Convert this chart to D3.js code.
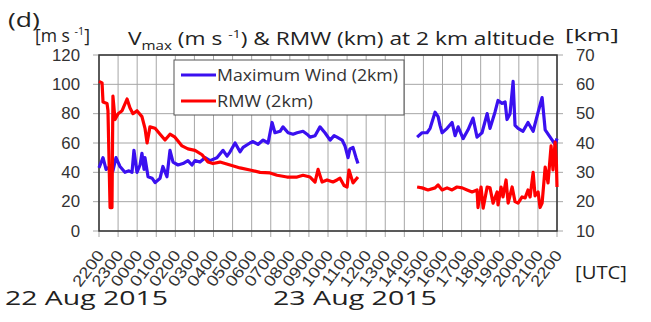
<!DOCTYPE html>
<html>
<head>
<meta charset="utf-8">
<script src="https://cdn.jsdelivr.net/npm/d3@7"></script>
<style>
  body { margin: 0; background: #fff; }
  svg { font-family: "Open Sans", Lato, sans-serif; }
  .grid line { stroke: #a6a6a6; stroke-width: 1; }
  .axis path { display: none; }
  .axis line { stroke: #a6a6a6; }
  .axis text { fill: #333; }
</style>
</head>
<body>
<svg id="viz" width="651" height="322"></svg>
<script>
// hours after 2200 UTC 22 Aug 2015
var xLabels = ["2200","2300","0000","0100","0200","0300","0400","0500","0600","0700","0800","0900",
  "1000","1100","1200","1300","1400","1500","1600","1700","1800","1900","2000","2100","2200"];
var leftTicks = [0, 20, 40, 60, 80, 100, 120];
var rightTicks = [10, 20, 30, 40, 50, 60, 70];

// Maximum wind at 2 km (m s-1), left axis
var windT = [0.00,0.21,0.37,0.58,0.73,0.89,1.10,1.36,1.57,1.73,1.83,1.99,2.15,2.25,2.36,2.41,2.57,2.78,2.94,3.20,
  3.35,3.56,3.72,3.88,4.14,4.40,4.66,4.87,5.03,5.29,5.56,5.82,6.18,6.50,6.71,6.87,7.13,7.39,7.55,7.91,
  8.07,8.33,8.60,8.86,9.07,9.22,9.49,9.64,9.91,10.17,10.38,10.69,10.90,11.06,11.32,11.58,11.84,12.11,12.32,12.47,
  12.74,12.89,13.05,13.15,13.31,13.47,13.57,
  16.67,16.93,17.19,17.35,17.61,17.77,17.87,17.98,18.24,18.50,18.66,18.82,19.08,19.34,19.60,19.81,20.07,20.34,
  20.49,20.75,20.91,21.12,21.28,21.38,21.54,21.70,21.80,21.96,22.22,22.48,22.75,23.01,23.22,23.38,23.64,23.90,24.00];
var windV = [43,50,42,44,41,50,44,40,41,40,55,40,45,53,42,50,37,36,33,36,
  44,37,55,47,45,46,48,45,48,47,50,48,50,55,51,54,60,54,57,60,
  61,59,62,60,74,67,68,71,67,66,67,68,66,64,65,71,67,62,65,64,
  62,58,50,56,57,50,46,
  64,67,67,70,81,78,72,67,70,74,65,71,63,69,77,64,67,80,
  70,81,89,87,88,76,80,102,72,70,68,74,68,81,91,69,64,59,63];

// RMW at 2 km (km), right axis
var rmwT = [0.00,0.16,0.21,0.42,0.47,0.58,0.68,0.73,0.84,1.00,1.21,1.47,1.62,1.78,1.99,2.25,2.41,2.52,2.67,2.94,
  3.20,3.46,3.72,3.98,4.35,4.66,5.03,5.40,5.71,5.97,6.34,6.87,7.39,7.91,8.44,8.96,9.33,9.85,10.38,10.69,
  11.06,11.32,11.48,11.69,11.95,12.26,12.47,12.63,12.84,13.00,13.10,13.31,13.57,
  16.67,16.93,17.24,17.61,17.77,17.98,18.24,18.50,18.76,19.03,19.29,19.55,19.81,19.86,20.02,20.13,20.34,20.49,
  20.65,20.86,20.91,21.07,21.17,21.33,21.44,21.65,21.80,21.96,22.17,22.33,22.48,22.59,22.75,22.85,23.01,23.11,
  23.22,23.38,23.53,23.69,23.79,23.90,23.97,24.00];
var rmwV = [61,60.5,54,53.5,51,18,18,56,48,50,51,55,52,50,51,49,45,40,45.5,45,
  43,41,43,42,39,38,37.5,36,33.5,33,33.5,32.5,31.5,30.8,30,29.8,29,28.4,28.4,29,
  28.4,26.7,31,26.7,27.4,26.7,27.4,28,25.5,25,30.8,26.4,28.4,
  25,24.7,24,24.7,25.7,24,24.7,24,25,24.7,24,23.3,24,18,25,17.8,25,24.7,
  19.5,23.3,18.9,25,21.6,27.4,19.5,25,20,19.5,21.6,21.3,24,21.6,30,22,23.3,18,
  19.5,31.8,26.4,39,30.8,40.3,33,25];

var BLUE = "#3a10f0", RED = "#ff0000";
var svg = d3.select("#viz");
var plot = { left: 99, right: 557, top: 55, bottom: 231 };

var xScale = d3.scaleLinear().domain([0, 24]).range([plot.left, plot.right]);
var yLeft = d3.scaleLinear().domain([0, 120]).range([plot.bottom, plot.top]);
var yRight = d3.scaleLinear().domain([10, 70]).range([plot.bottom, plot.top]);

// the reference text is stretched sideways, so squeeze/stretch each label to the width seen
function fitText(sel, x, y, width) {
  var w = sel.node().getBBox().width;
  sel.attr("x", 0).attr("y", 0)
    .attr("transform", "translate(" + x + "," + y + ") scale(" + (width / w) + ",1)");
  return sel;
}

// GRID
var grid = svg.append("g").attr("class", "grid");
grid.selectAll(".v").data(d3.range(25)).enter().append("line")
  .attr("x1", d => xScale(d)).attr("x2", d => xScale(d))
  .attr("y1", plot.top).attr("y2", plot.bottom + 6);
grid.selectAll(".h").data(leftTicks).enter().append("line")
  .attr("x1", plot.left - 6).attr("x2", plot.right + 6)
  .attr("y1", d => yLeft(d)).attr("y2", d => yLeft(d));

// AXES
svg.append("g").attr("class", "axis")
  .attr("transform", "translate(" + (plot.left - 6) + ",0)")
  .call(d3.axisLeft(yLeft).tickValues(leftTicks).tickSize(0))
  .selectAll("text")
  .attr("font-size", 16).attr("x", -12.4).attr("transform", "scale(1.05,1)");
svg.append("g").attr("class", "axis")
  .attr("transform", "translate(" + (plot.right + 6) + ",0)")
  .call(d3.axisRight(yRight).tickValues(rightTicks).tickSize(0))
  .selectAll("text")
  .attr("font-size", 16).attr("x", 12.4).attr("transform", "scale(1.05,1)");

var xAxis = svg.append("g").attr("class", "axis")
  .attr("transform", "translate(0," + plot.bottom + ")")
  .call(d3.axisBottom(xScale).tickValues(d3.range(25)).tickSize(0)
    .tickFormat(function (d) { return xLabels[d]; }));
xAxis.selectAll("text")
  .style("text-anchor", "end")
  .attr("font-size", 16)
  .attr("x", 0).attr("y", 0).attr("dy", "0.35em")
  .attr("transform", "translate(1,21) rotate(-53) scale(1.15,1)");

// plot frame
svg.append("rect")
  .attr("x", plot.left).attr("y", plot.top)
  .attr("width", plot.right - plot.left).attr("height", plot.bottom - plot.top)
  .attr("fill", "none").attr("stroke", "#333").attr("stroke-width", 1.5);

// LINES, split where the record has a gap
function segments(ts, vs) {
  var out = [], cur = [];
  ts.forEach(function (t, i) {
    if (cur.length && t - cur[cur.length - 1][0] > 1.5) { out.push(cur); cur = []; }
    cur.push([t, vs[i]]);
  });
  out.push(cur);
  return out;
}
var lineWind = d3.line().x(d => xScale(d[0])).y(d => yLeft(d[1]));
var lineRmw = d3.line().x(d => xScale(d[0])).y(d => yRight(d[1]));

svg.selectAll(".wind").data(segments(windT, windV)).enter().append("path")
  .attr("class", "wind").attr("d", lineWind)
  .attr("fill", "none").attr("stroke", BLUE).attr("stroke-width", 3.2)
  .attr("stroke-linejoin", "round");
svg.selectAll(".rmw").data(segments(rmwT, rmwV)).enter().append("path")
  .attr("class", "rmw").attr("d", lineRmw)
  .attr("fill", "none").attr("stroke", RED).attr("stroke-width", 3.2)
  .attr("stroke-linejoin", "round");

// LEGEND
var lg = svg.append("g");
lg.append("rect").attr("x", 174).attr("y", 60).attr("width", 230).attr("height", 55)
  .attr("fill", "#fff").attr("stroke", "#555").attr("stroke-width", 1);
var items = [["Maximum Wind (2km)", BLUE, 181], ["RMW (2km)", RED, 96]];
items.forEach(function (it, i) {
  var y = 75 + i * 26;
  lg.append("line").attr("x1", 181).attr("x2", 216).attr("y1", y).attr("y2", y)
    .attr("stroke", it[1]).attr("stroke-width", 3.2);
  fitText(lg.append("text").attr("font-size", 17).attr("fill", "#333").text(it[0]), 217, y + 6, it[2]);
});

// TITLES
fitText(svg.append("text").attr("font-size", 20).attr("fill", "#222").text("(d)"), 8, 27, 32);

var unitL = svg.append("text").attr("font-size", 18).attr("fill", "#222");
unitL.append("tspan").text("[m s ");
unitL.append("tspan").attr("dy", -7).attr("font-size", 11).text("-1");
unitL.append("tspan").attr("dy", 7).text("]");
fitText(unitL, 35, 42, 55);

var title = svg.append("text").attr("font-size", 18).attr("fill", "#222");
title.append("tspan").text("V");
title.append("tspan").attr("dy", 5).attr("font-size", 12).text("max");
title.append("tspan").attr("dy", -5).text(" (m s ");
title.append("tspan").attr("dy", -7).attr("font-size", 11).text("-1");
title.append("tspan").attr("dy", 7).text(") & RMW (km) at 2 km altitude");
fitText(title, 128, 45, 427);

fitText(svg.append("text").attr("font-size", 17).attr("fill", "#222").text("[km]"), 565, 41, 54);
fitText(svg.append("text").attr("font-size", 19).attr("fill", "#222").text("[UTC]"), 575, 279, 52);
fitText(svg.append("text").attr("font-size", 20).attr("fill", "#222").text("22 Aug 2015"), 5, 305, 163);
fitText(svg.append("text").attr("font-size", 20).attr("fill", "#222").text("23 Aug 2015"), 273, 305, 164);
</script>
</body>
</html>
